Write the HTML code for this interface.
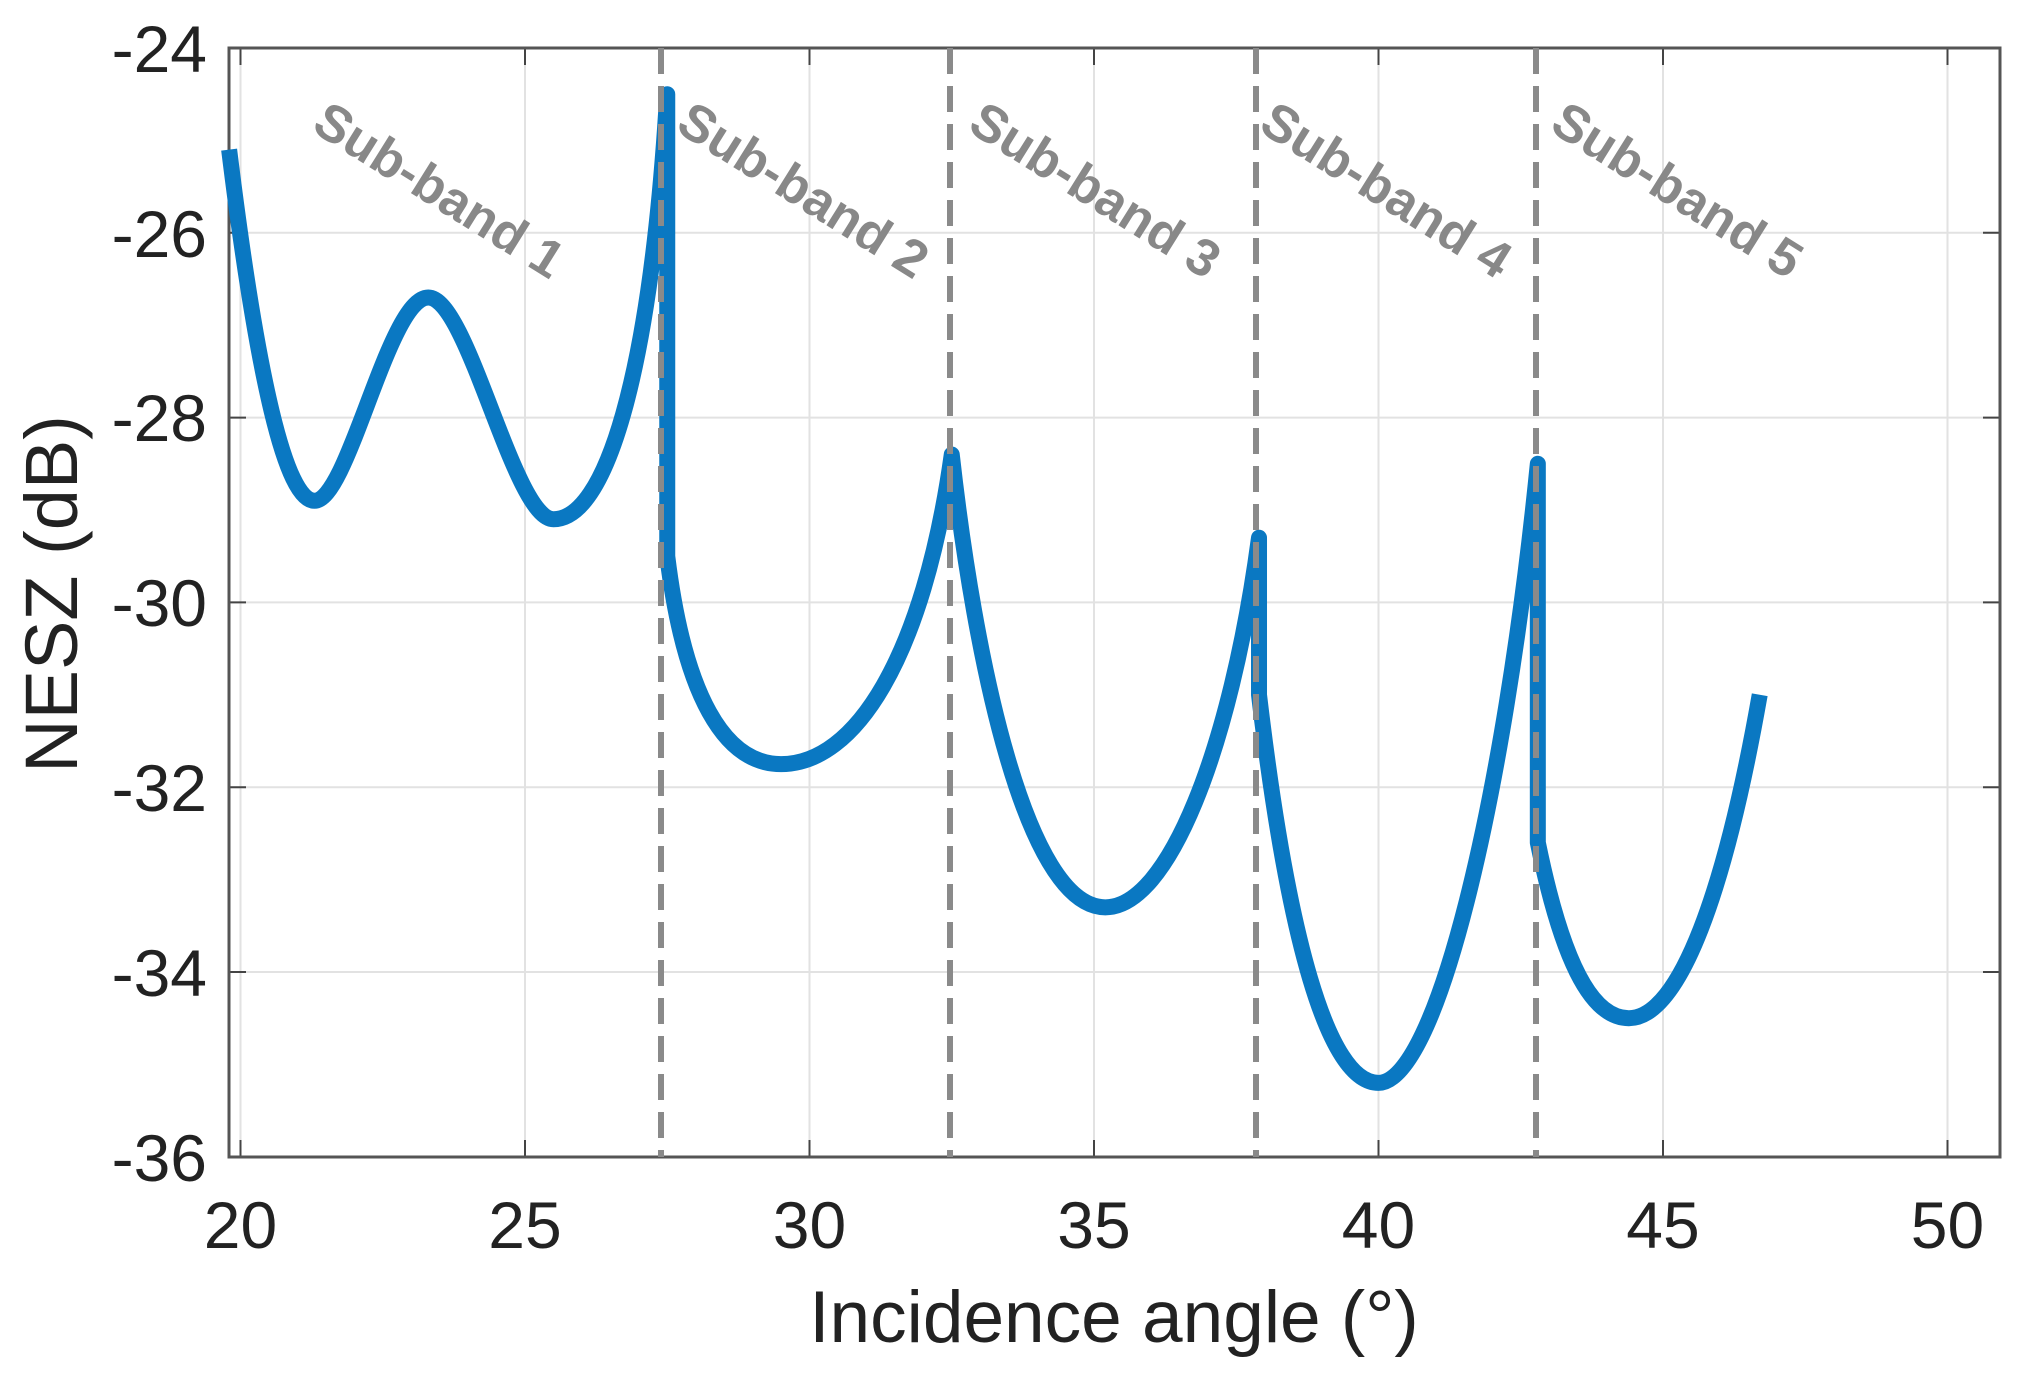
<!DOCTYPE html>
<html><head><meta charset="utf-8"><style>
html,body{margin:0;padding:0;background:#fff;}
svg{display:block;font-family:"Liberation Sans",sans-serif;}
</style></head><body>
<svg width="2027" height="1381" viewBox="0 0 2027 1381" xmlns="http://www.w3.org/2000/svg">
<rect width="2027" height="1381" fill="#fff"/>
<g stroke="#e2e2e2" stroke-width="2">
<line x1="240.5" y1="48" x2="240.5" y2="1157"/>
<line x1="525" y1="48" x2="525" y2="1157"/>
<line x1="809.5" y1="48" x2="809.5" y2="1157"/>
<line x1="1094" y1="48" x2="1094" y2="1157"/>
<line x1="1378.5" y1="48" x2="1378.5" y2="1157"/>
<line x1="1663" y1="48" x2="1663" y2="1157"/>
<line x1="1947.5" y1="48" x2="1947.5" y2="1157"/>
<line x1="229" y1="232.8" x2="2000" y2="232.8"/>
<line x1="229" y1="417.6" x2="2000" y2="417.6"/>
<line x1="229" y1="602.4" x2="2000" y2="602.4"/>
<line x1="229" y1="787.2" x2="2000" y2="787.2"/>
<line x1="229" y1="972" x2="2000" y2="972"/>
</g>
<g stroke="#444" stroke-width="2">
<line x1="240.5" y1="1157" x2="240.5" y2="1140"/><line x1="240.5" y1="48" x2="240.5" y2="65"/>
<line x1="525" y1="1157" x2="525" y2="1140"/><line x1="525" y1="48" x2="525" y2="65"/>
<line x1="809.5" y1="1157" x2="809.5" y2="1140"/><line x1="809.5" y1="48" x2="809.5" y2="65"/>
<line x1="1094" y1="1157" x2="1094" y2="1140"/><line x1="1094" y1="48" x2="1094" y2="65"/>
<line x1="1378.5" y1="1157" x2="1378.5" y2="1140"/><line x1="1378.5" y1="48" x2="1378.5" y2="65"/>
<line x1="1663" y1="1157" x2="1663" y2="1140"/><line x1="1663" y1="48" x2="1663" y2="65"/>
<line x1="1947.5" y1="1157" x2="1947.5" y2="1140"/><line x1="1947.5" y1="48" x2="1947.5" y2="65"/>
<line x1="229" y1="232.8" x2="246" y2="232.8"/><line x1="2000" y1="232.8" x2="1983" y2="232.8"/>
<line x1="229" y1="417.6" x2="246" y2="417.6"/><line x1="2000" y1="417.6" x2="1983" y2="417.6"/>
<line x1="229" y1="602.4" x2="246" y2="602.4"/><line x1="2000" y1="602.4" x2="1983" y2="602.4"/>
<line x1="229" y1="787.2" x2="246" y2="787.2"/><line x1="2000" y1="787.2" x2="1983" y2="787.2"/>
<line x1="229" y1="972" x2="246" y2="972"/><line x1="2000" y1="972" x2="1983" y2="972"/>
</g>
<rect x="229" y="48" width="1771" height="1109" fill="none" stroke="#555" stroke-width="3"/>
<g transform="translate(240.5,48) scale(56.9,-92.4) translate(-20,24)">
<path vector-effect="non-scaling-stroke" fill="none" stroke="#0a78c2" stroke-width="16" stroke-linejoin="round"
d="M19.8,-25.1 C20.3,-27.6 20.8,-28.9 21.3,-28.9 C21.9,-28.9 22.6,-26.7 23.3,-26.7 C24,-26.7 24.8,-29.1 25.5,-29.1 C26.4,-29.1 27.2,-27.6 27.5,-24.5 L27.5,-29.5 C27.8,-31 28.5,-31.75 29.5,-31.75 C30.8,-31.75 32,-30.6 32.5,-28.4 C32.9,-30.6 33.8,-33.3 35.2,-33.3 C36.3,-33.3 37.4,-31.6 37.9,-29.3 L37.9,-31 C38.4,-33.6 39.1,-35.2 40,-35.2 C41,-35.2 42.2,-32.2 42.8,-28.5 L42.8,-32.6 C43.2,-33.8 43.7,-34.5 44.4,-34.5 C45.3,-34.5 46.1,-33.1 46.7,-31.0"/>
</g>
<g stroke="#8a8a8a" stroke-width="6" stroke-dasharray="26,12">
<line x1="661" y1="48" x2="661" y2="1157"/>
<line x1="950" y1="48" x2="950" y2="1157"/>
<line x1="1256" y1="48" x2="1256" y2="1157"/>
<line x1="1536" y1="48" x2="1536" y2="1157"/>
</g>
<g fill="#888" font-size="52" font-weight="bold">
<text transform="translate(310,130) rotate(32)">Sub-band 1</text>
<text transform="translate(674,130) rotate(32)">Sub-band 2</text>
<text transform="translate(966,130) rotate(32)">Sub-band 3</text>
<text transform="translate(1257,130) rotate(32)">Sub-band 4</text>
<text transform="translate(1548,130) rotate(32)">Sub-band 5</text>
</g>
<g fill="#222" font-size="66" text-anchor="end">
<text x="207" y="72">-24</text>
<text x="207" y="257">-26</text>
<text x="207" y="441">-28</text>
<text x="207" y="626">-30</text>
<text x="207" y="811">-32</text>
<text x="207" y="996">-34</text>
<text x="207" y="1181">-36</text>
</g>
<g fill="#222" font-size="66" text-anchor="middle">
<text x="240.5" y="1248">20</text>
<text x="525" y="1248">25</text>
<text x="809.5" y="1248">30</text>
<text x="1094" y="1248">35</text>
<text x="1378.5" y="1248">40</text>
<text x="1663" y="1248">45</text>
<text x="1947.5" y="1248">50</text>
</g>
<text x="1114" y="1342" fill="#222" font-size="73" text-anchor="middle">Incidence angle (°)</text>
<text transform="translate(77,594) rotate(-90)" fill="#222" font-size="74" text-anchor="middle">NESZ (dB)</text>
</svg>
</body></html>
